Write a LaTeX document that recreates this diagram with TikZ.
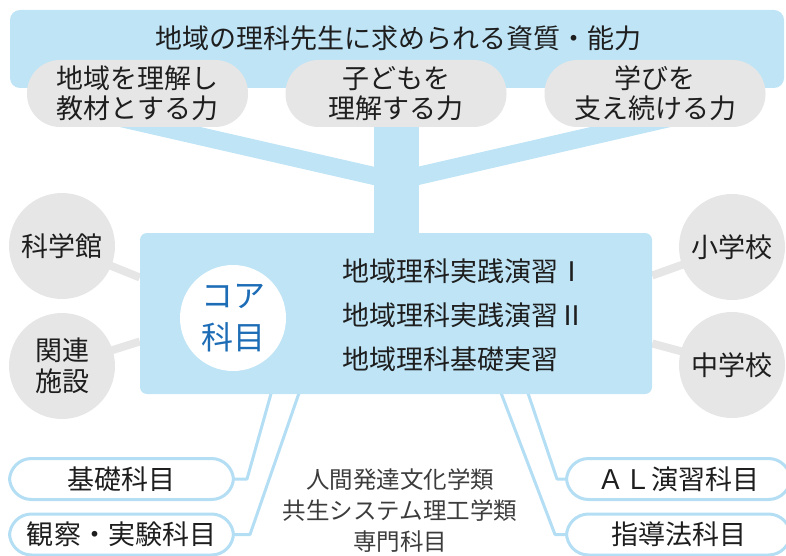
\documentclass[tikz,border=0pt]{standalone}
\usepackage{fontspec}
\newfontfamily\jpfont{Noto Sans CJK JP}
\usetikzlibrary{backgrounds}

\definecolor{SkyBlue}{RGB}{190,228,246}
\definecolor{LineBlue}{RGB}{180,222,244}
\definecolor{PaleGray}{RGB}{230,230,230}
\definecolor{CoreBlue}{RGB}{28,108,182}
\definecolor{InkGray}{RGB}{30,30,30}
\definecolor{NoteGray}{RGB}{60,60,60}

\begin{document}
\begin{tikzpicture}[
	x=1pt, y=-1pt,
	every node/.style={
		font=\jpfont,
		text=InkGray,
		inner sep=0pt,
	},
	banner/.style={
		rectangle,
		rounded corners=10pt,
		fill=SkyBlue,
		minimum width=774pt,
		minimum height=78pt,
	},
	ability/.style={
		rectangle,
		rounded corners=33pt,
		fill=PaleGray,
		minimum width=221pt,
		minimum height=67pt,
		align=center,
		font=\jpfont\fontsize{27}{30}\selectfont,
	},
	corebox/.style={
		rectangle,
		rounded corners=7pt,
		fill=SkyBlue,
		minimum width=512pt,
		minimum height=161pt,
	},
	spot/.style={
		circle,
		fill=PaleGray,
		minimum size=106pt,
		align=center,
		font=\jpfont\fontsize{27}{31}\selectfont,
	},
	subject/.style={
		rectangle,
		rounded corners=22pt,
		draw=LineBlue,
		line width=3pt,
		fill=white,
		minimum width=224pt,
		minimum height=41pt,
		font=\jpfont\fontsize{27}{30}\selectfont,
	},
	TrunkC1/.style={% wide stem under the abilities
		line width=45pt,
		SkyBlue,
	},
	BandC1/.style={
		line width=18pt,
		SkyBlue,
	},
	GrayC1/.style={
		line width=8pt,
		PaleGray,
	},
	LinkC1/.style={% thin links to the subject groups
		line width=3pt,
		line join=round,
		LineBlue,
	},
]
	\useasboundingbox (0,0) rectangle (786,556);

	% abilities
	\node [banner] (banner) at (397,49) {};
	\node [font=\jpfont\fontsize{27}{30}\selectfont] (title) at (398,38) {地域の理科先生に求められる資質・能力};
	\node [ability] (ability1) at (137.5,93.5) {地域を理解し\\教材とする力};
	\node [ability] (ability2) at (396,93.5) {子どもを\\理解する力};
	\node [ability] (ability3) at (655,93.5) {学びを\\支え続ける力};
	\coordinate (hub) at (396,181);

	% core subjects
	\node [corebox] (core) at (396,313.5) {};
	\node [circle, fill=white, minimum size=106pt, align=center, text=CoreBlue,
		font=\jpfont\fontsize{32}{42}\selectfont] (coretag) at (233,318) {コア\\科目};
	\node [anchor=west, align=left, font=\jpfont\fontsize{27}{44}\selectfont] (courses) at (342,315)
		{地域理科実践演習Ⅰ\\地域理科実践演習Ⅱ\\地域理科基礎実習};

	% partners
	\node [spot] (museum) at (62,246) {科学館};
	\node [spot] (facility) at (62,366) {関連\\施設};
	\node [spot] (primary) at (732,247) {小学校};
	\node [spot] (junior) at (732,365) {中学校};

	% subject groups
	\node [subject] (basic) at (121.5,479) {基礎科目};
	\node [subject] (observe) at (121.5,534.5) {観察・実験科目};
	\node [subject] (almethod) at (678.5,479) {ＡＬ演習科目};
	\node [subject] (guidance) at (678.5,534.5) {指導法科目};
	\node [align=center, text=NoteGray, font=\jpfont\fontsize{23.5}{31}\selectfont] (majors) at (400,511)
		{人間発達文化学類\\共生システム理工学類\\専門科目};

	\begin{scope}[on background layer]
		\draw [TrunkC1] (ability2.south) -- (core.north);
		\draw [BandC1] (hub) -- ([xshift=-16pt,yshift=9pt]ability1.south);
		\draw [BandC1] (hub) -- ([xshift=14pt,yshift=9pt]ability3.south);

		\draw [GrayC1] (museum.center) -- ([yshift=36pt]core.west);
		\draw [GrayC1] (facility.center) -- ([yshift=-28pt]core.west);
		\draw [GrayC1] (primary.center) -- ([yshift=38pt]core.east);
		\draw [GrayC1] (junior.center) -- ([yshift=-30pt]core.east);

		\draw [LinkC1] ([xshift=-124pt,yshift=4pt]core.south) -- ([xshift=12pt]basic.east) -- (basic.east);
		\draw [LinkC1] ([xshift=-96pt,yshift=4pt]core.south) -- ([xshift=15pt]observe.east) -- (observe.east);
		\draw [LinkC1] ([xshift=131pt,yshift=4pt]core.south) -- ([xshift=-8pt]almethod.west) -- (almethod.west);
		\draw [LinkC1] ([xshift=104pt,yshift=4pt]core.south) -- ([xshift=-10pt]guidance.west) -- (guidance.west);
	\end{scope}
\end{tikzpicture}
\end{document}
